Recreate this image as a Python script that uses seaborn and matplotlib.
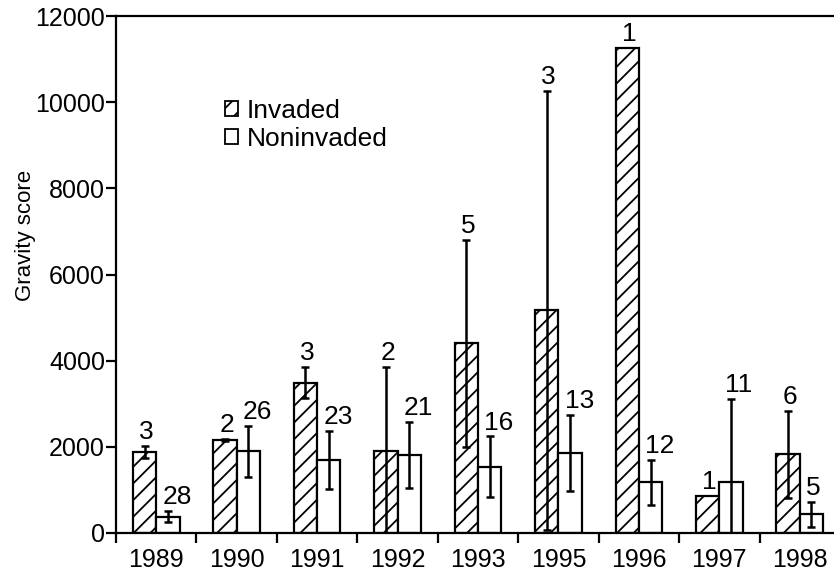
import matplotlib
matplotlib.use("Agg")
import matplotlib.pyplot as plt
from matplotlib.patches import Patch
import seaborn as sns
import pandas as pd
import numpy as np

years = ["1989", "1990", "1991", "1992", "1993", "1995", "1996", "1997", "1998"]
invaded_mean = [1880, 2160, 3490, 1910, 4400, 5170, 11250, 870, 1830]
invaded_err = [130, 20, 360, 1950, 2400, 5090, 0, 0, 1010]
invaded_n = [3, 2, 3, 2, 5, 3, 1, 1, 6]
noninv_mean = [380, 1900, 1690, 1810, 1540, 1860, 1180, 1190, 430]
noninv_err = [130, 590, 670, 775, 700, 880, 520, 1930, 280]
noninv_n = [28, 26, 23, 21, 16, 13, 12, 11, 5]
groups = ["Invaded", "Noninvaded"]
y_ticks = [0, 2000, 4000, 6000, 8000, 10000, 12000]

sns.set_theme(style="ticks")
plt.rcParams["font.family"] = ["Liberation Sans", "DejaVu Sans"]
plt.rcParams["hatch.linewidth"] = 1.3
plt.rcParams["hatch.color"] = "black"
for key in ["text.color", "axes.labelcolor", "xtick.color", "ytick.color", "axes.edgecolor"]:
    plt.rcParams[key] = "black"

df = pd.DataFrame({
    "year": years * 2,
    "score": invaded_mean + noninv_mean,
    "group": [groups[0]] * len(years) + [groups[1]] * len(years),
})

fig = plt.figure(figsize=(8.34, 5.73), dpi=100)
W, H = 834, 573
ax = fig.add_axes([116 / W, 40 / H, 724 / W, 517 / H])

sns.barplot(data=df, x="year", y="score", hue="group", order=years,
            hue_order=groups, palette=["white", "white"], saturation=1,
            edgecolor="black", linewidth=1.6, width=0.58, errorbar=None,
            legend=False, ax=ax)

series = [(invaded_mean, invaded_err, invaded_n), (noninv_mean, noninv_err, noninv_n)]
for k, (cont, (means, errs, ns)) in enumerate(zip(ax.containers, series)):
    for bar, m, e, n in zip(cont, means, errs, ns):
        if k == 0:
            bar.set_hatch("//")
        xc = bar.get_x() + bar.get_width() / 2
        if e > 0:
            ax.errorbar(xc, m, yerr=e, fmt="none", ecolor="black",
                        elinewidth=1.8, capsize=3, capthick=1.8, zorder=5)
        ax.annotate(str(n), (xc, m + e), xytext=(-4, 5),
                    textcoords="offset points", ha="left", va="baseline",
                    fontsize=19, color="black")

ax.set_ylim(0, 12000)
ax.set_xlim(-0.5, 8.5)
ax.set_yticks(y_ticks)
ax.set_xticks(np.arange(-0.5, 9, 1), minor=True)
ax.tick_params(axis="x", which="major", length=0, labelsize=18, pad=11)
ax.tick_params(axis="x", which="minor", length=7, width=1.6, direction="out")
ax.tick_params(axis="y", length=7, width=1.6, labelsize=18, pad=1)
ax.set_xlabel("")
ax.set_ylabel("Gravity score", fontsize=16)
ax.yaxis.set_label_coords(-0.11, 0.576)

for s in ax.spines.values():
    s.set_linewidth(1.6)
    s.set_color("black")

handles = [Patch(facecolor="white", edgecolor="black", hatch="//", linewidth=1.3),
           Patch(facecolor="white", edgecolor="black", linewidth=1.3)]
ax.legend(handles, groups, loc="upper left", bbox_to_anchor=(0.15, 0.84),
          frameon=False, fontsize=19, handlelength=0.5, handleheight=0.5,
          handletextpad=0.35, labelspacing=0.15, borderpad=0, borderaxespad=0)

fig.savefig("out.png", dpi=100)
